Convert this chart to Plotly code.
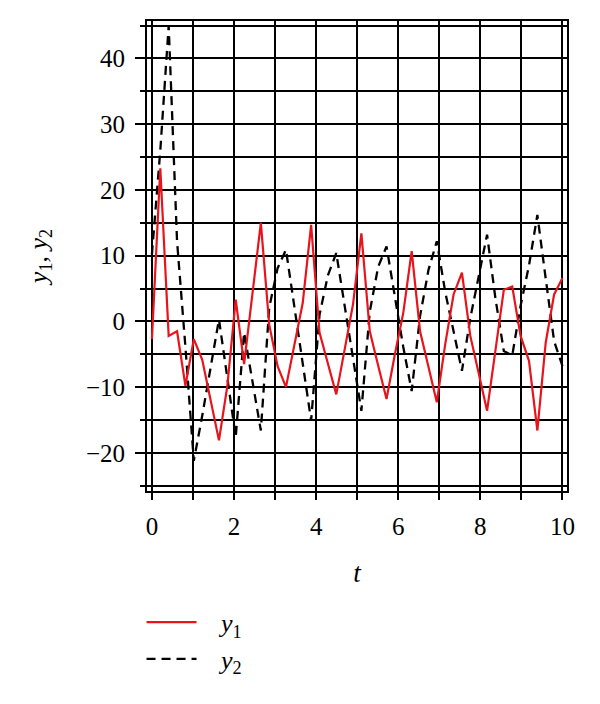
import plotly.graph_objects as go

t = [0.000, 0.204, 0.408, 0.612, 0.816, 1.020, 1.224, 1.429, 1.633, 1.837,
     2.041, 2.245, 2.449, 2.653, 2.857, 3.061, 3.265, 3.469, 3.673, 3.878,
     4.082, 4.286, 4.490, 4.694, 4.898, 5.102, 5.306, 5.510, 5.714, 5.918,
     6.122, 6.327, 6.531, 6.735, 6.939, 7.143, 7.347, 7.551, 7.755, 7.959,
     8.163, 8.367, 8.571, 8.776, 8.980, 9.184, 9.388, 9.592, 9.796, 10.000]

y1 = [-2.7, 23.3, -2.2, -1.5, -9.8, -2.7, -5.8, -12.0, -18.1, -9.8,
      3.3, -6.5, 4.2, 15.0, -0.5, -6.8, -10.0, -3.6, 2.8, 14.7,
      -1.7, -6.4, -11.1, -4.3, 2.6, 13.4, -1.5, -6.7, -11.8, -5.0,
      1.3, 10.7, -1.5, -6.9, -12.3, -3.5, 4.1, 7.4, -2.2, -7.9,
      -13.6, -4.4, 4.8, 5.3, -2.2, -6.0, -16.6, -3.2, 4.1, 6.6]

y2 = [10.2, 26.0, 45.0, 12.2, -3.9, -21.2, -14.4, -7.0, 0.3, -8.6,
      -17.6, -1.7, -9.2, -16.6, 2.1, 8.1, 10.9, 2.0, -6.5, -15.1,
      1.0, 7.0, 10.4, 2.4, -5.6, -13.6, 1.5, 8.3, 11.4, 3.5,
      -3.9, -10.6, 0.8, 7.8, 12.2, 4.5, -1.5, -7.5, 0.5, 7.0,
      13.2, 3.5, -4.5, -5.2, 2.4, 8.5, 16.2, 6.5, -3.0, -6.8]

x_ticks = [0, 2, 4, 6, 8, 10]
y_ticks = [-20, -10, 0, 10, 20, 30, 40]

FONT = "Liberation Serif"
TICKFONT = dict(family=FONT, size=25, color="black")
PAD = "&nbsp;&nbsp;&nbsp;"

fig = go.Figure()
fig.add_trace(go.Scatter(x=t, y=y2, mode="lines", name=PAD + "<i>y</i><sub>2</sub>",
                         line=dict(color="black", width=2.3, dash="9px,6px"),
                         legendrank=2))
fig.add_trace(go.Scatter(x=t, y=y1, mode="lines", name=PAD + "<i>y</i><sub>1</sub>",
                         line=dict(color="#e8141c", width=2.2),
                         legendrank=1))

fig.update_layout(
    template="none",
    width=592, height=696,
    margin=dict(l=139, r=33, t=13, b=213, autoexpand=False),
    paper_bgcolor="white", plot_bgcolor="white",
    font=dict(family=FONT, size=24, color="black"),
    showlegend=True,
    legend=dict(x=-0.013, y=-0.229, xanchor="left", yanchor="top",
                bgcolor="rgba(0,0,0,0)", font=dict(size=26, family=FONT),
                tracegroupgap=0, itemwidth=50),
)

fig.update_xaxes(
    automargin=False,
    range=[-0.12, 10.11], tickmode="array", tickvals=x_ticks,
    ticktext=[str(v) for v in x_ticks], tickfont=TICKFONT,
    ticks="outside", ticklen=7, tickwidth=2, tickcolor="black",
    showline=True, linecolor="black", linewidth=2, mirror=True,
    showgrid=True, gridcolor="black", gridwidth=2, zeroline=False,
    minor=dict(dtick=1, tick0=0, ticks="outside", ticklen=7, tickwidth=2,
               tickcolor="black", showgrid=True, gridcolor="black", gridwidth=2),
    ticklabelstandoff=5,
    title=dict(text="<i>t</i>", font=dict(size=27, family=FONT), standoff=24),
)
fig.update_yaxes(
    automargin=False,
    range=[-25.8, 45.7], tickmode="array", tickvals=y_ticks,
    ticktext=[("\u2212" + str(-v)) if v < 0 else str(v) for v in y_ticks],
    tickfont=TICKFONT,
    ticks="outside", ticklen=10, tickwidth=2, tickcolor="black",
    showline=True, linecolor="black", linewidth=2, mirror=True,
    showgrid=True, gridcolor="black", gridwidth=2, zeroline=False,
    minor=dict(dtick=5, tick0=0, ticks="outside", ticklen=5, tickwidth=2,
               tickcolor="black", showgrid=True, gridcolor="black", gridwidth=2),
    ticklabelstandoff=5,
    title=dict(text="<i>y</i><sub>1</sub>, <i>y</i><sub>2</sub>",
               font=dict(size=26, family=FONT), standoff=31),
)

fig.write_html("out.html")
